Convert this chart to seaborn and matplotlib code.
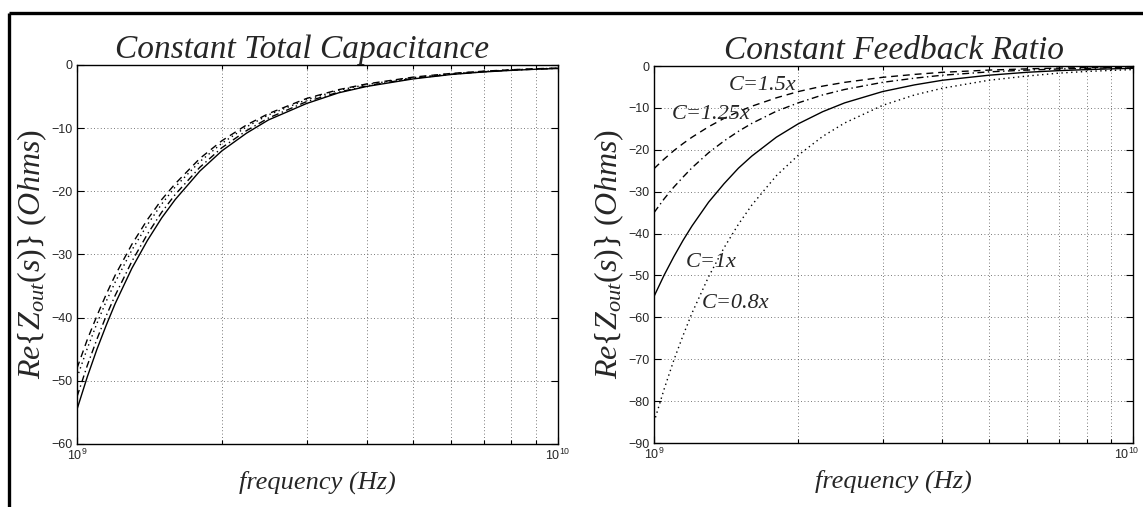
import numpy as np
import pandas as pd
import matplotlib
matplotlib.use("Agg")
import matplotlib.pyplot as plt
from matplotlib.lines import Line2D
from matplotlib.transforms import ScaledTranslation
from matplotlib.ticker import FixedLocator, FixedFormatter, LogLocator, NullFormatter
import seaborn as sns

# frequency samples, in GHz
freq_ghz = [1.0, 1.05, 1.1, 1.15, 1.2, 1.3, 1.4, 1.5, 1.6, 1.8, 2.0, 2.25, 2.5,
            3.0, 3.5, 4.0, 5.0, 6.0, 7.0, 8.0, 9.0, 10.0]

# Constant total capacitance: Re{Zout} (Ohms)
total_solid = [-54.5, -49.4, -45.0, -41.2, -37.8, -32.2, -27.8, -24.2, -21.3, -16.8, -13.6,
               -10.8, -8.7, -6.1, -4.4, -3.4, -2.2, -1.5, -1.1, -0.85, -0.67, -0.55]
total_dashdot = [-52.5, -47.6, -43.4, -39.7, -36.5, -31.1, -26.8, -23.3, -20.5, -16.2, -13.1,
                 -10.4, -8.4, -5.8, -4.3, -3.3, -2.1, -1.46, -1.07, -0.82, -0.65, -0.53]
total_dotted = [-49.5, -44.9, -40.9, -37.4, -34.4, -29.3, -25.3, -22.0, -19.3, -15.3, -12.4,
                -9.8, -7.9, -5.5, -4.0, -3.1, -2.0, -1.38, -1.01, -0.77, -0.61, -0.50]
total_dashed = [-48.0, -43.5, -39.7, -36.3, -33.3, -28.4, -24.5, -21.3, -18.8, -14.8, -12.0,
                -9.5, -7.7, -5.3, -3.9, -3.0, -1.92, -1.33, -0.98, -0.75, -0.59, -0.48]

# Constant feedback ratio: Re{Zout} (Ohms) for scaled capacitance
fb_c150 = [-24.5, -22.2, -20.2, -18.5, -17.0, -14.5, -12.5, -10.9, -9.6, -7.6, -6.1,
           -4.8, -3.9, -2.7, -2.0, -1.5, -0.98, -0.68, -0.50, -0.38, -0.30, -0.25]
fb_c125 = [-35.0, -31.7, -28.9, -26.5, -24.3, -20.7, -17.9, -15.6, -13.7, -10.8, -8.8,
           -6.9, -5.6, -3.9, -2.9, -2.2, -1.4, -0.97, -0.71, -0.55, -0.43, -0.35]
fb_c100 = [-55.0, -49.9, -45.5, -41.6, -38.2, -32.5, -28.1, -24.4, -21.5, -17.0, -13.8,
           -10.9, -8.8, -6.1, -4.5, -3.4, -2.2, -1.5, -1.1, -0.86, -0.68, -0.55]
fb_c080 = [-85.0, -77.1, -70.2, -64.3, -59.0, -50.3, -43.4, -37.8, -33.2, -26.2, -21.3,
           -16.8, -13.6, -9.4, -6.9, -5.3, -3.4, -2.4, -1.7, -1.3, -1.05, -0.85]

fb_labels = ["C=1.5x", "C=1.25x", "C=1x", "C=0.8x"]
fb_label_pos = [(1.43e9, -4.6), (1.088e9, -11.6), (1.163e9, -47.0), (1.257e9, -56.6)]

sns.set_style("ticks")
plt.rcParams["font.family"] = ["Liberation Sans", "DejaVu Sans"]
plt.rcParams["mathtext.fontset"] = "custom"
plt.rcParams["mathtext.it"] = "Liberation Serif:italic"
plt.rcParams["mathtext.rm"] = "Liberation Serif"
plt.rcParams["mathtext.sf"] = "Liberation Sans"

freq_hz = np.array(freq_ghz) * 1e9

fig = plt.figure(figsize=(11.43, 5.07), dpi=100)
ax1 = fig.add_axes([0.0674, 0.1243, 0.4208, 0.7475])
ax2 = fig.add_axes([0.5722, 0.1262, 0.4191, 0.7436])

serif_it = dict(family="Liberation Serif", style="italic")
grid_kw = dict(color="0.3", linewidth=0.6, linestyle=(0, (1, 3)))

dash = (0, (5, 3.5))
dashdot = (0, (5, 2.5, 1, 2.5))
dot = (0, (1, 2.5))


def draw(ax, series, styles):
    for vals, ls in zip(series, styles):
        df = pd.DataFrame({"f": freq_hz, "z": vals})
        sns.lineplot(data=df, x="f", y="z", ax=ax, color="black",
                     linewidth=1.0, linestyle=ls, estimator=None, sort=False)


draw(ax1, [total_solid, total_dashdot, total_dotted, total_dashed],
     ["-", dashdot, dot, dash])
draw(ax2, [fb_c150, fb_c125, fb_c100, fb_c080], [dash, dashdot, "-", dot])

for ax, ymin in ((ax1, -60), (ax2, -90)):
    ax.set_xscale("log")
    ax.set_xlim(1e9, 1e10)
    ax.set_ylim(ymin, 0)
    ax.yaxis.set_major_locator(FixedLocator(list(range(ymin, 1, 10))))
    ax.set_yticklabels(["\u2212%d" % -v if v < 0 else "0" for v in range(ymin, 1, 10)])
    ax.xaxis.set_major_locator(FixedLocator([1e9, 1e10]))
    ax.xaxis.set_major_formatter(FixedFormatter([r"$\mathsf{10^{9}}$", r"$\mathsf{10^{10}}$"]))
    ax.xaxis.set_minor_locator(LogLocator(base=10, subs=np.arange(2, 10)))
    ax.xaxis.set_minor_formatter(NullFormatter())
    ax.grid(True, which="both", axis="x", **grid_kw)
    ax.grid(True, which="major", axis="y", **grid_kw)
    ax.tick_params(which="both", direction="in", top=True, right=True,
                   labelsize=9, width=0.8, color="black", pad=3)
    ax.tick_params(which="major", length=5)
    ax.tick_params(which="minor", length=3)
    for s in ax.spines.values():
        s.set_linewidth(1.0)
        s.set_color("black")
    ax.set_xlabel("frequency (Hz)", fontsize=19, labelpad=5, **serif_it)
    ax.set_ylabel(r"$Re\{Z_{out}(s)\}\ (Ohms)$", fontsize=23, labelpad=2)

ax1.set_title("Constant Total Capacitance", fontsize=24, pad=4, x=0.468, **serif_it)
ax2.set_title("Constant Feedback Ratio", fontsize=24, pad=4, **serif_it)

# keep the last decade label of the right panel inside the page
last = ax2.get_xticklabels()[-1]
last.set_transform(last.get_transform() + ScaledTranslation(-6 / 100, 0, fig.dpi_scale_trans))

for text, (x, y) in zip(fb_labels, fb_label_pos):
    ax2.text(x, y, text, fontsize=16, ha="left", va="center", **serif_it)

# page frame along the top and left edges
fig.add_artist(Line2D([9 / 1143, 1.0], [1 - 13 / 507] * 2, transform=fig.transFigure,
                      color="black", linewidth=2.4, solid_capstyle="butt"))
fig.add_artist(Line2D([9 / 1143] * 2, [0.0, 1 - 13 / 507], transform=fig.transFigure,
                      color="black", linewidth=2.4, solid_capstyle="butt"))

fig.savefig("out.png", dpi=100)
